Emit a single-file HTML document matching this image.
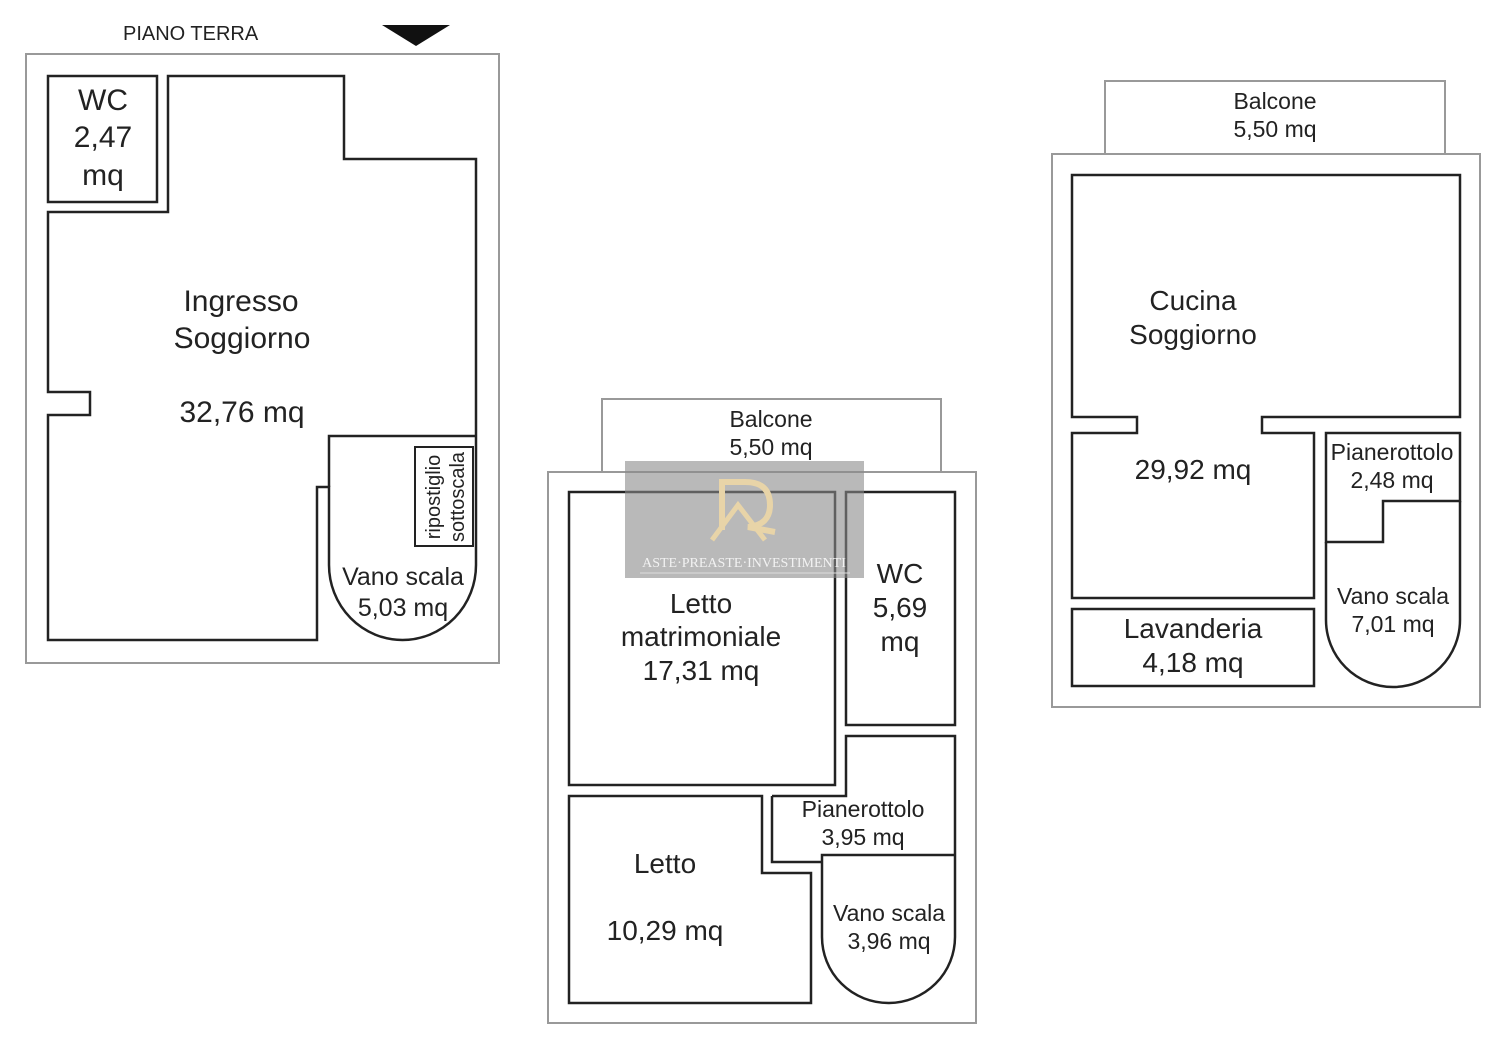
<!DOCTYPE html>
<html><head><meta charset="utf-8"><style>
html,body{margin:0;padding:0;background:#fff}
svg{display:block}
text{font-family:"Liberation Sans",sans-serif;fill:#222}
</style></head><body>
<svg width="1500" height="1045" viewBox="0 0 1500 1045" xmlns="http://www.w3.org/2000/svg">
<g fill="none" stroke-linejoin="miter">
<rect x="26" y="54" width="473" height="609" stroke="#999" stroke-width="2"/>
<g stroke="#222" stroke-width="2.5">
<rect x="48" y="76" width="109" height="126"/>
<path d="M48,212 H168 V76 H344 V159 H476 V565 A73.5,75 0 0 1 329,565 V487 H317 V640 H48 V415 H90 V392 H48 Z"/>
<path d="M329,487 V436 H476"/>
<rect x="415" y="447" width="58" height="99" stroke-width="2"/>
</g>
<rect x="602" y="399" width="339" height="73" stroke="#999" stroke-width="2"/>
<rect x="548" y="472" width="428" height="551" stroke="#999" stroke-width="2"/>
<g stroke="#222" stroke-width="2.5">
<rect x="569" y="492" width="266" height="293"/>
<rect x="846" y="492" width="109" height="233"/>
<path d="M569,796 H762 V873 H811 V1003 H569 Z"/>
<path d="M772,796 V862 H822 M772,796 H846 V736 H955 V855 H822 V937 A66.5,66 0 0 0 955,937 V855"/>
</g>
<rect x="1105" y="81" width="340" height="73" stroke="#999" stroke-width="2"/>
<rect x="1052" y="154" width="428" height="553" stroke="#999" stroke-width="2"/>
<g stroke="#222" stroke-width="2.5">
<path d="M1072,175 H1460 V417 H1262 V433 H1314 V598 H1072 V433 H1137 V417 H1072 Z"/>
<rect x="1072" y="609" width="242" height="77"/>
<path d="M1326,433 H1460 V501 H1383 V542 H1326 Z"/>
<path d="M1326,542 V620 A67,67 0 0 0 1460,620 V501"/>
</g>
</g>
<polygon points="382,25 450,25 416,46" fill="#111"/>
<text x="123" y="40" font-size="20">PIANO TERRA</text>
<g font-size="30" text-anchor="middle">
<text x="103" y="110">WC</text><text x="103" y="147">2,47</text><text x="103" y="185">mq</text>
<text x="241" y="311">Ingresso</text><text x="242" y="348">Soggiorno</text>
<text x="242" y="422">32,76 mq</text>
</g>
<g font-size="25" text-anchor="middle">
<text x="403" y="585">Vano scala</text><text x="403" y="616">5,03 mq</text>
</g>
<g font-size="20" text-anchor="middle">
<text transform="translate(440,497) rotate(-90)">ripostiglio</text>
<text transform="translate(464,497) rotate(-90)">sottoscala</text>
</g>
<g font-size="23" text-anchor="middle">
<text x="771" y="427">Balcone</text><text x="771" y="455">5,50 mq</text>
<text x="1275" y="109">Balcone</text><text x="1275" y="137">5,50 mq</text>
<text x="863" y="817">Pianerottolo</text><text x="863" y="845">3,95 mq</text>
<text x="889" y="921">Vano scala</text><text x="889" y="949">3,96 mq</text>
<text x="1392" y="460">Pianerottolo</text><text x="1392" y="488">2,48 mq</text>
<text x="1393" y="604">Vano scala</text><text x="1393" y="632">7,01 mq</text>
</g>
<g font-size="28" text-anchor="middle">
<text x="701" y="613">Letto</text><text x="701" y="646">matrimoniale</text><text x="701" y="680">17,31 mq</text>
<text x="900" y="583">WC</text><text x="900" y="617">5,69</text><text x="900" y="651">mq</text>
<text x="665" y="873">Letto</text><text x="665" y="940">10,29 mq</text>
<text x="1193" y="310">Cucina</text><text x="1193" y="344">Soggiorno</text>
<text x="1193" y="479">29,92 mq</text>
<text x="1193" y="638">Lavanderia</text><text x="1193" y="672">4,18 mq</text>
</g>
<rect x="625" y="461" width="239" height="117" fill="#8a8a8a" fill-opacity="0.6"/>
<path d="M722,530 V482 H745 Q770,482 770,505 Q770,525 748,527 L775,532" fill="none" stroke="#e8d4a8" stroke-width="6"/>
<path d="M712,540 L738,505 L765,540" fill="none" stroke="#e8d4a8" stroke-width="5"/>
<text x="744" y="567" font-size="14" text-anchor="middle" style="fill:#f2f2f2;font-family:'Liberation Serif',serif">ASTE·PREASTE·INVESTIMENTI</text>
<line x1="640" y1="573" x2="850" y2="573" stroke="#ddd" stroke-width="1"/>
</svg>
</body></html>
